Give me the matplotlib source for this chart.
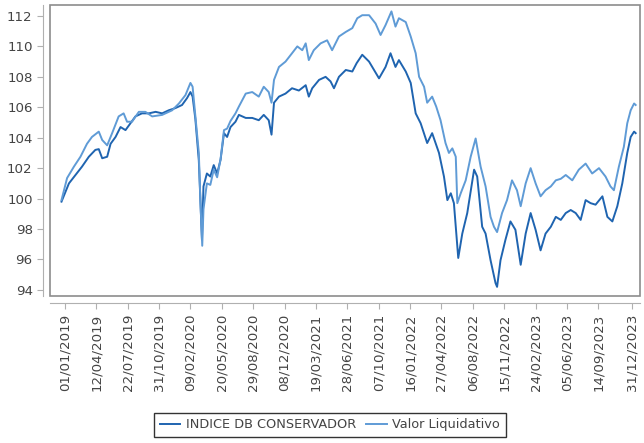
import matplotlib
matplotlib.use("Agg")
import matplotlib.pyplot as plt
import matplotlib.dates as mdates
from matplotlib.patches import Rectangle
import pandas as pd

# INDICE DB CONSERVADOR (dark line)
dates_indice = ["2018-12-21", "2019-01-14", "2019-02-04", "2019-02-25", "2019-03-19", "2019-04-09",
                "2019-04-20", "2019-05-01", "2019-05-17", "2019-05-28", "2019-06-13", "2019-06-29",
                "2019-07-15", "2019-07-31", "2019-08-16", "2019-09-06", "2019-09-28", "2019-10-20",
                "2019-11-10", "2019-12-01", "2019-12-23", "2020-01-13", "2020-01-29", "2020-02-09",
                "2020-02-16", "2020-02-25", "2020-03-07", "2020-03-12", "2020-03-17", "2020-03-22",
                "2020-04-02", "2020-04-13", "2020-04-24", "2020-05-05", "2020-05-16", "2020-05-27",
                "2020-06-06", "2020-06-17", "2020-07-03", "2020-07-14", "2020-08-05", "2020-08-26",
                "2020-09-16", "2020-10-02", "2020-10-18", "2020-10-27", "2020-11-04", "2020-11-20",
                "2020-12-11", "2021-01-01", "2021-01-23", "2021-02-14", "2021-02-24", "2021-03-07",
                "2021-03-29", "2021-04-19", "2021-05-05", "2021-05-16", "2021-06-01", "2021-06-23",
                "2021-07-14", "2021-07-28", "2021-08-15", "2021-09-06", "2021-10-08", "2021-10-29",
                "2021-11-14", "2021-11-30", "2021-12-11", "2022-01-02", "2022-01-18", "2022-02-03",
                "2022-02-19", "2022-03-12", "2022-03-28", "2022-04-19", "2022-05-05", "2022-05-16",
                "2022-05-27", "2022-06-06", "2022-06-20", "2022-07-03", "2022-07-19", "2022-08-10",
                "2022-08-20", "2022-09-05", "2022-09-16", "2022-10-02", "2022-10-18", "2022-10-23",
                "2022-11-03", "2022-11-19", "2022-12-05", "2022-12-21", "2023-01-07", "2023-01-23",
                "2023-02-08", "2023-02-24", "2023-03-12", "2023-03-28", "2023-04-14", "2023-04-30",
                "2023-05-16", "2023-06-01", "2023-06-17", "2023-07-03", "2023-07-19", "2023-08-04",
                "2023-08-20", "2023-09-05", "2023-09-27", "2023-10-13", "2023-10-29", "2023-11-14",
                "2023-11-30", "2023-12-16", "2023-12-27", "2024-01-07", "2024-01-12"]
indice = [99.8, 101.0, 101.55, 102.1, 102.75, 103.2,
          103.25, 102.65, 102.75, 103.6, 104.05, 104.7,
          104.5, 104.95, 105.4, 105.6, 105.6, 105.7,
          105.6, 105.8, 105.95, 106.15, 106.6, 107.0,
          106.7, 105.2, 102.5, 99.9, 97.3, 100.8,
          101.65, 101.45, 102.2, 101.65, 102.55, 104.3,
          104.05, 104.7, 105.05, 105.5, 105.3, 105.3,
          105.15, 105.5, 105.15, 104.2, 106.3, 106.7,
          106.9, 107.25, 107.1, 107.45, 106.7, 107.25,
          107.8, 108.0, 107.7, 107.25, 108.0, 108.45,
          108.35, 108.9, 109.45, 109.0, 107.9, 108.65,
          109.55, 108.65, 109.1, 108.35, 107.6, 105.6,
          104.95, 103.65, 104.3, 103.0, 101.45, 99.9,
          100.35, 99.7, 96.1, 97.7, 99.05, 101.9,
          101.45, 98.15, 97.7, 95.95, 94.45, 94.2,
          95.95, 97.3, 98.5, 97.95, 95.65, 97.7,
          99.05, 97.95, 96.6, 97.7, 98.15, 98.8,
          98.6, 99.05, 99.25, 99.05, 98.6, 99.9,
          99.7, 99.6, 100.15, 98.8, 98.5, 99.5,
          101.0, 103.0, 104.05, 104.4, 104.3]

# Valor Liquidativo (light line)
dates_valor = ["2018-12-21", "2019-01-08", "2019-01-30", "2019-02-20", "2019-03-13", "2019-03-29",
               "2019-04-20", "2019-05-01", "2019-05-17", "2019-06-02", "2019-06-23", "2019-07-09",
               "2019-07-20", "2019-08-05", "2019-08-27", "2019-09-17", "2019-10-09", "2019-11-10",
               "2019-12-12", "2020-01-03", "2020-01-24", "2020-02-09", "2020-02-16", "2020-02-25",
               "2020-03-07", "2020-03-12", "2020-03-18", "2020-03-22", "2020-04-02", "2020-04-13",
               "2020-04-24", "2020-05-05", "2020-05-16", "2020-05-27", "2020-06-06", "2020-06-17",
               "2020-07-03", "2020-07-14", "2020-08-05", "2020-08-26", "2020-09-16", "2020-10-02",
               "2020-10-18", "2020-10-27", "2020-11-04", "2020-11-20", "2020-12-11", "2021-01-01",
               "2021-01-18", "2021-02-03", "2021-02-14", "2021-02-24", "2021-03-12", "2021-04-03",
               "2021-04-24", "2021-05-10", "2021-06-01", "2021-06-23", "2021-07-14", "2021-07-30",
               "2021-08-15", "2021-09-06", "2021-09-27", "2021-10-13", "2021-10-29", "2021-11-17",
               "2021-11-30", "2021-12-11", "2022-01-02", "2022-01-18", "2022-02-03", "2022-02-14",
               "2022-03-02", "2022-03-12", "2022-03-28", "2022-04-10", "2022-04-24", "2022-05-10",
               "2022-05-21", "2022-06-01", "2022-06-12", "2022-06-17", "2022-06-28", "2022-07-14",
               "2022-07-30", "2022-08-15", "2022-08-31", "2022-09-16", "2022-10-02", "2022-10-13",
               "2022-10-23", "2022-11-08", "2022-11-24", "2022-12-10", "2022-12-26", "2023-01-07",
               "2023-01-23", "2023-02-08", "2023-02-24", "2023-03-12", "2023-03-28", "2023-04-14",
               "2023-04-30", "2023-05-16", "2023-06-01", "2023-06-22", "2023-07-13", "2023-08-04",
               "2023-08-25", "2023-09-16", "2023-10-07", "2023-10-23", "2023-11-03", "2023-11-19",
               "2023-12-05", "2023-12-16", "2023-12-27", "2024-01-07", "2024-01-12"]
valor = [99.9, 101.35, 102.1, 102.75, 103.6, 104.05,
         104.4, 103.85, 103.5, 104.3, 105.4, 105.6,
         105.05, 105.05, 105.7, 105.7, 105.4, 105.5,
         105.8, 106.25, 106.8, 107.6, 107.35, 105.4,
         103.0, 99.9, 96.9, 99.3, 101.0, 100.9,
         101.9, 101.4, 102.6, 104.5, 104.6, 105.1,
         105.6, 106.05, 106.9, 107.0, 106.7, 107.35,
         107.0, 106.3, 107.8, 108.65, 109.0, 109.55,
         110.0, 109.75, 110.2, 109.1, 109.75, 110.2,
         110.4, 109.75, 110.65, 110.95, 111.2, 111.85,
         112.05, 112.05, 111.5, 110.75, 111.4, 112.3,
         111.3, 111.85, 111.6, 110.65, 109.55, 108.0,
         107.35, 106.3, 106.7, 106.05, 105.15, 103.65,
         103.0, 103.3, 102.75, 99.7, 100.35, 101.2,
         102.75, 103.95, 102.1, 100.8, 98.8, 98.15,
         97.8, 99.05, 99.9, 101.2, 100.55, 99.5,
         101.0, 102.0, 101.0, 100.15, 100.55, 100.8,
         101.2, 101.3, 101.55, 101.2, 101.9, 102.3,
         101.65, 102.0, 101.45, 100.8, 100.55, 102.1,
         103.4, 104.95, 105.8, 106.25, 106.15]

tick_labels = ["01/01/2019", "12/04/2019", "22/07/2019", "31/10/2019", "09/02/2020", "20/05/2020",
               "29/08/2020", "08/12/2020", "19/03/2021", "28/06/2021", "07/10/2021", "16/01/2022",
               "27/04/2022", "06/08/2022", "15/11/2022", "24/02/2023", "05/06/2023", "14/09/2023",
               "31/12/2023"]

dark_blue = "#1f64b0"
light_blue = "#5f9bd6"
text_grey = "#444444"

fig = plt.figure(figsize=(6.44, 4.43), dpi=100)
ax = fig.add_axes([50 / 644, 1 - 296 / 443, 590 / 644, 291 / 443])

ax.plot(pd.to_datetime(dates_indice), indice, color=dark_blue, lw=1.4, label="INDICE DB CONSERVADOR")
ax.plot(pd.to_datetime(dates_valor), valor, color=light_blue, lw=1.4, label="Valor Liquidativo")

ax.set_xlim(pd.Timestamp("2018-11-14"), pd.Timestamp("2024-01-26"))
ax.set_ylim(93.6, 112.72)
ax.set_yticks(range(94, 113, 2))

ticks = pd.to_datetime(tick_labels, format="%d/%m/%Y")
ax.set_xticks(ticks)
ax.xaxis.set_major_formatter(mdates.DateFormatter("%d/%m/%Y"))

# frame around the plot area, axes drawn a bit outside
ax.add_patch(Rectangle((0, 0), 1, 1, transform=ax.transAxes, fill=False,
                       edgecolor="#8c8c8c", lw=1.2, clip_on=False, zorder=5))
for s in ["top", "right"]:
    ax.spines[s].set_visible(False)
for s in ["left", "bottom"]:
    ax.spines[s].set_position(("outward", 5))
    ax.spines[s].set_color("#b0b0b0")
    ax.spines[s].set_linewidth(0.8)

ax.tick_params(axis="both", colors="#b0b0b0", labelcolor=text_grey, labelsize=9.6, length=4, width=0.8)
ax.tick_params(axis="x", labelrotation=90)

fig.legend(loc="lower center", bbox_to_anchor=(0.512, 0.013), ncol=2, fontsize=9.3,
           frameon=True, fancybox=False, edgecolor="#333333", framealpha=1,
           handlelength=1.6, handletextpad=0.4, columnspacing=0.8, borderpad=0.45,
           borderaxespad=0, labelcolor=text_grey)

fig.savefig("out.png", dpi=100)
